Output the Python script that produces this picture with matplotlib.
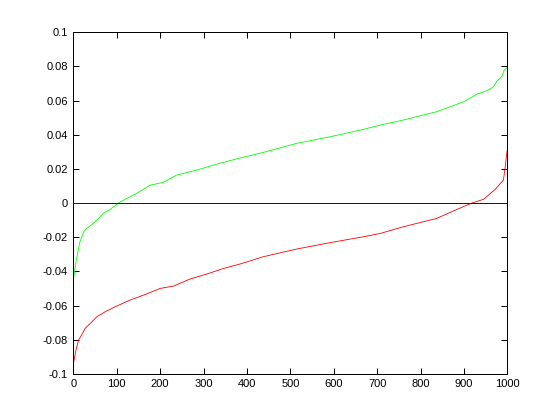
import matplotlib
matplotlib.use("Agg")
import matplotlib.pyplot as plt

# Green series (sorted values)
green_x = [1, 6, 15, 24, 31, 46, 58, 69, 85, 104, 123, 146, 177, 207, 238, 284,
           330, 384, 438, 515, 591, 669, 707, 760, 837, 899, 930, 953, 968, 976,
           987, 993, 999, 1000]
green_y = [-0.0431, -0.0344, -0.0227, -0.0168, -0.0148, -0.0119, -0.0090, -0.0060,
           -0.0037, 0.0000, 0.0027, 0.0057, 0.0105, 0.0121, 0.0164, 0.0193,
           0.0228, 0.0264, 0.0297, 0.0350, 0.0388, 0.0432, 0.0457, 0.0486, 0.0535,
           0.0593, 0.0638, 0.0658, 0.0681, 0.0714, 0.0740, 0.0780, 0.0792, 0.0800]

# Red series (sorted values)
red_x = [1, 6, 12, 19, 27, 39, 54, 73, 100, 131, 162, 200, 231, 269, 307, 346,
         384, 438, 515, 591, 669, 707, 760, 837, 875, 918, 945, 972, 991, 995, 999, 1000]
red_y = [-0.0929, -0.0861, -0.0802, -0.0773, -0.0734, -0.0705, -0.0666, -0.0637,
         -0.0603, -0.0568, -0.0539, -0.0500, -0.0486, -0.0445, -0.0416, -0.0383,
         -0.0357, -0.0314, -0.0269, -0.0232, -0.0197, -0.0178, -0.0139, -0.0090,
         -0.0047, 0.0000, 0.0022, 0.0080, 0.0135, 0.0213, 0.0300, 0.0310]

zero_x = [0, 1000]
zero_y = [0, 0]

x_ticks = [0, 100, 200, 300, 400, 500, 600, 700, 800, 900, 1000]
y_ticks = [-0.1, -0.08, -0.06, -0.04, -0.02, 0, 0.02, 0.04, 0.06, 0.08, 0.1]
y_tick_labels = ["-0.1", "-0.08", "-0.06", "-0.04", "-0.02", "0", "0.02", "0.04",
                 "0.06", "0.08", "0.1"]

plt.rcParams['font.family'] = ['Liberation Sans', 'DejaVu Sans']

fig = plt.figure(figsize=(5.6, 4.2), dpi=100)
ax = fig.add_axes([0.131, 0.110, 0.775, 0.813])

ax.plot(green_x, green_y, color='#00ff00', lw=0.6, antialiased=True)
ax.plot(red_x, red_y, color='#ff0000', lw=0.6, antialiased=True)
ax.plot(zero_x, zero_y, color='#0000ff', lw=0.72, antialiased=False)

ax.set_xlim(0, 1000)
ax.set_ylim(-0.1, 0.1)
ax.set_xticks(x_ticks)
ax.set_xticklabels([str(t) for t in x_ticks])
ax.set_yticks(y_ticks)
ax.set_yticklabels(y_tick_labels)
ax.tick_params(direction='in', length=4, width=0.72, labelsize=8, top=True, right=True,
               pad=4)
for s in ax.spines.values():
    s.set_linewidth(0.72)

fig.savefig("out.png", dpi=100)
